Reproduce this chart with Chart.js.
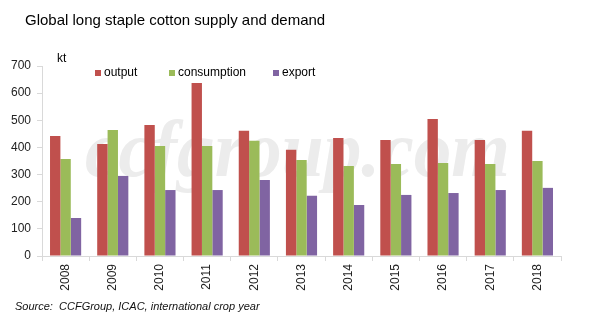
<!DOCTYPE html>
<html>
<head>
<meta charset="utf-8">
<script src="https://cdn.jsdelivr.net/npm/chart.js@4.4.1/dist/chart.umd.min.js"></script>
<style>
    html, body { margin: 0; padding: 0; background: #fff; }
    #wrap { width: 603px; height: 334px; position: relative; }
</style>
</head>
<body>
<div id="wrap"><canvas id="grafico"></canvas></div>
<script>
const years = ['2008', '2009', '2010', '2011', '2012', '2013', '2014', '2015', '2016', '2017', '2018'];
const output = [442, 413, 483, 637, 461, 391, 435, 427, 505, 427, 461];
const consumption = [357, 464, 405, 405, 425, 354, 332, 339, 343, 339, 350];
const exportData = [140, 295, 243, 243, 280, 222, 188, 225, 232, 243, 251];
const yTicks = [0, 100, 200, 300, 400, 500, 600, 700];

const FONT = '"Liberation Sans", Arial, sans-serif';

// textos fijos, marca de agua y leyenda dibujada a mano
const decoraciones = {
    id: 'decoraciones',
    beforeDatasetsDraw: function (chart) {
        const ctx = chart.ctx;
        ctx.save();
        ctx.font = 'italic bold 80px "Liberation Serif", "Times New Roman", serif';
        const txt = 'ccfgroup.com';
        const w = ctx.measureText(txt).width;
        ctx.translate(85, 176);
        ctx.scale(425 / w, 1);
        ctx.fillStyle = '#ececec';
        ctx.textBaseline = 'alphabetic';
        ctx.fillText(txt, 0, 0);
        ctx.restore();
    },
    afterDraw: function (chart) {
        const ctx = chart.ctx;
        ctx.save();
        ctx.fillStyle = '#000';
        ctx.textBaseline = 'middle';
        ctx.font = '15px ' + FONT;
        ctx.fillText('Global long staple cotton supply and demand', 25, 21);

        ctx.font = '12px ' + FONT;
        ctx.fillText('kt', 57, 59);

        const leyendaX = [95, 169, 273];
        chart.data.datasets.forEach(function (ds, i) {
            ctx.fillStyle = ds.backgroundColor;
            ctx.fillRect(leyendaX[i], 70, 6, 6);
            ctx.fillStyle = '#000';
            ctx.fillText(ds.label, leyendaX[i] + 9, 73);
        });

        ctx.font = 'italic 11px ' + FONT;
        ctx.fillStyle = '#111';
        ctx.fillText('Source:  CCFGroup, ICAC, international crop year', 15, 307);
        ctx.restore();
    }
};

new Chart(document.getElementById('grafico').getContext('2d'), {
    type: 'bar',
    data: {
        labels: years,
        datasets: [
            { label: 'output', data: output, backgroundColor: '#C0504D' },
            { label: 'consumption', data: consumption, backgroundColor: '#9BBB59' },
            { label: 'export', data: exportData, backgroundColor: '#8064A2' }
        ]
    },
    options: {
        responsive: true,
        maintainAspectRatio: false,
        animation: false,
        devicePixelRatio: 1,
        layout: { padding: { top: 66, right: 42, bottom: 28, left: 0 } },
        datasets: {
            bar: { categoryPercentage: 0.66, barPercentage: 1 }
        },
        scales: {
            x: {
                grid: { offset: true, drawOnChartArea: false, tickLength: 5, color: '#d9d9d9' },
                border: { color: '#d9d9d9' },
                ticks: {
                    minRotation: 90,
                    maxRotation: 90,
                    color: '#222',
                    font: { family: FONT, size: 12 }
                },
                afterFit: function (scale) { scale.height = 50; }
            },
            y: {
                min: 0,
                max: 700,
                afterBuildTicks: function (scale) {
                    scale.ticks = yTicks.map(function (v) { return { value: v }; });
                },
                grid: { drawOnChartArea: false, tickLength: 5, color: '#d9d9d9' },
                border: { color: '#d9d9d9' },
                ticks: {
                    color: '#222',
                    padding: 6,
                    font: { family: FONT, size: 12 }
                },
                afterFit: function (scale) { scale.width = 42; }
            }
        },
        plugins: {
            legend: { display: false },
            tooltip: { enabled: false }
        }
    },
    plugins: [decoraciones]
});
</script>
</body>
</html>
